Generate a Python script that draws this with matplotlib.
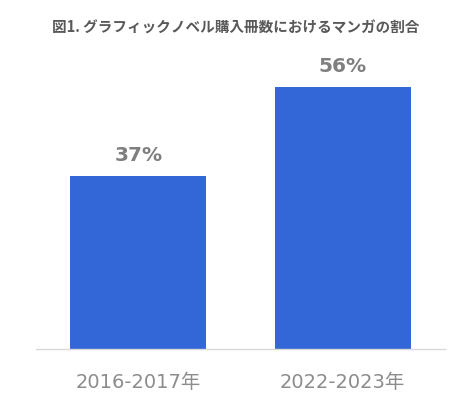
import matplotlib
matplotlib.use("Agg")
import matplotlib.pyplot as plt

plt.rcParams['font.family'] = ['DejaVu Sans', 'Noto Sans CJK JP']

categories = ["2016-2017年", "2022-2023年"]
values = [37, 56]
value_labels = ["37%", "56%"]
title = "図1. グラフィックノベル購入冊数におけるマンガの割合"

fig = plt.figure(figsize=(4.72, 4.0), dpi=100)
ax = fig.add_axes([36/472, 51/400, 409/472, 280/400])
x = range(len(categories))
ax.bar(x, values, width=0.663, color="#3366D6", zorder=2)
ax.set_xlim(-0.5, 1.5)
ax.set_ylim(0, 59.8)
for xi, v, lab in zip(x, values, value_labels):
    ax.text(xi, v + 3.1, lab, ha="center", va="baseline", fontsize=14.5,
            fontweight="bold", color="#7F7F7F")
ax.set_xticks(list(x))
ax.set_xticklabels(categories, fontsize=14, color="#8C8C8C")
ax.tick_params(axis="x", length=0, pad=17)
ax.set_yticks([])
for s in ["top", "right", "left"]:
    ax.spines[s].set_visible(False)
ax.spines["bottom"].set_color("#D9D9D9")
ax.spines["bottom"].set_linewidth(1)
fig.text(236/472, 1 - 28/400, title, ha="center", va="center", fontsize=10.5,
         fontweight="bold", color="#595959",
         family=['Noto Sans CJK JP', 'DejaVu Sans'])
fig.savefig("out.png", dpi=100)
